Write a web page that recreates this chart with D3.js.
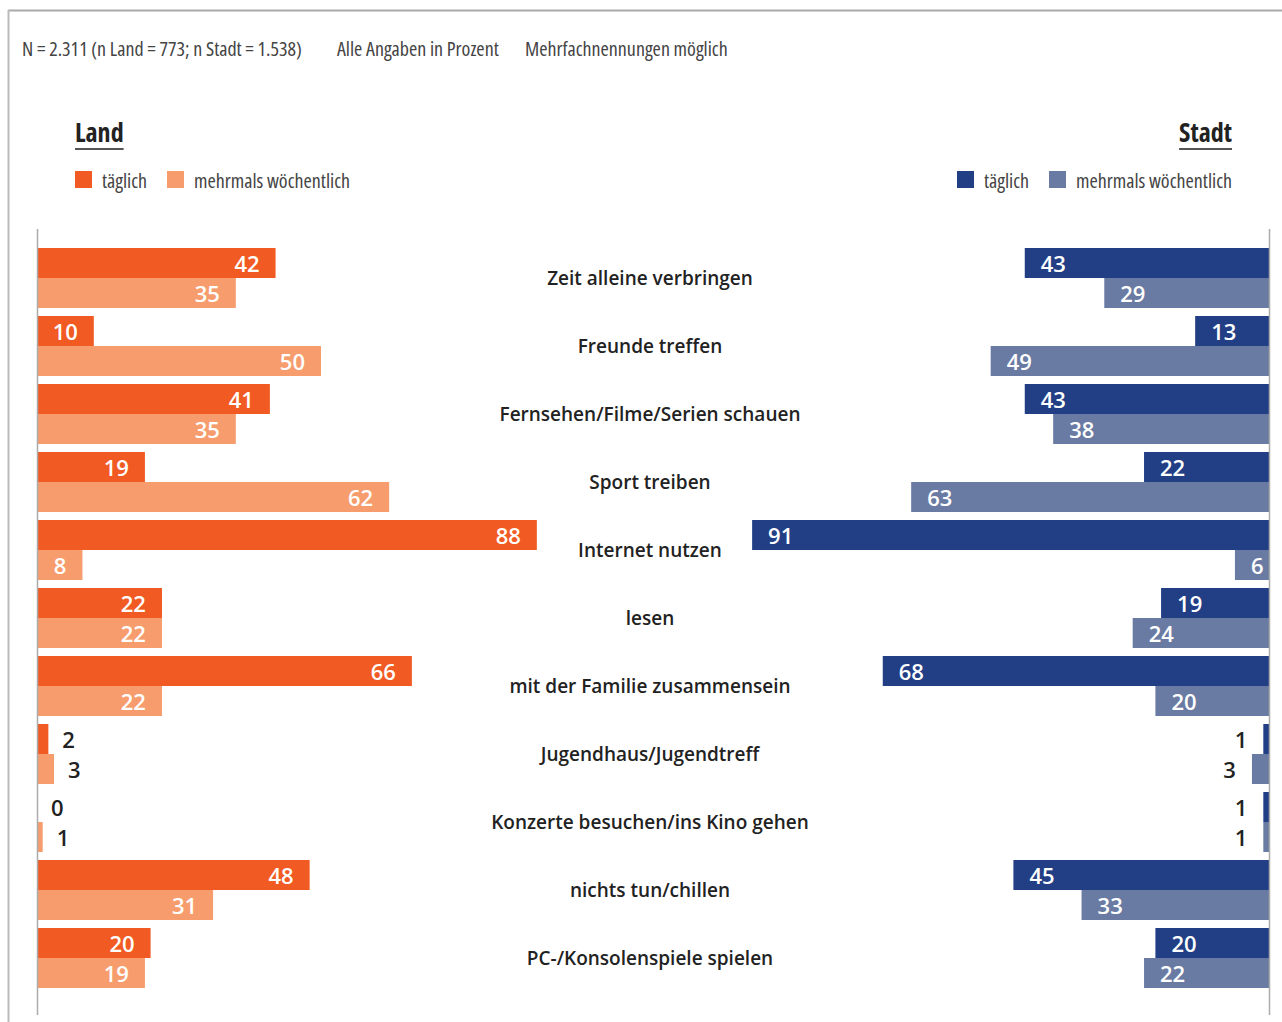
<!DOCTYPE html>
<html>
<head>
<meta charset="utf-8">
<script src="https://cdn.jsdelivr.net/npm/d3@7"></script>
<style>
  body { margin: 0; background: #fff; }
  .cond { font-family: "Liberation Sans Narrow", "Open Sans", sans-serif; font-stretch: condensed; }
</style>
</head>
<body>
<svg id="vis" width="1282" height="1022"></svg>
<script>
// chart data
var categories = ["Zeit alleine verbringen", "Freunde treffen", "Fernsehen/Filme/Serien schauen",
  "Sport treiben", "Internet nutzen", "lesen", "mit der Familie zusammensein",
  "Jugendhaus/Jugendtreff", "Konzerte besuchen/ins Kino gehen", "nichts tun/chillen",
  "PC-/Konsolenspiele spielen"];
var landTaeglich = [42, 10, 41, 19, 88, 22, 66, 2, 0, 48, 20];
var landMehrmals = [35, 50, 35, 62, 8, 22, 22, 3, 1, 31, 19];
var stadtTaeglich = [43, 13, 43, 22, 91, 19, 68, 1, 1, 45, 20];
var stadtMehrmals = [29, 49, 38, 63, 6, 24, 20, 3, 1, 33, 22];
var seriesKeys = ["taeglich", "mehrmals"];
var legendLabels = ["täglich", "mehrmals wöchentlich"];

var colors = {
  land: {taeglich: "#f15a22", mehrmals: "#f69c6d"},
  stadt: {taeglich: "#223f86", mehrmals: "#6a7ba3"}
};

var vis = d3.select("#vis");
var leftX = 37, rightX = 1269;

// frame lines
vis.append("line").attr("x1", 8).attr("x2", 1282).attr("y1", 10.5).attr("y2", 10.5)
  .attr("stroke", "#aaa").attr("stroke-width", 2);
vis.append("line").attr("x1", 8.5).attr("x2", 8.5).attr("y1", 10).attr("y2", 1022)
  .attr("stroke", "#bbb").attr("stroke-width", 2);

// header note
var notes = [["N = 2.311 (n Land = 773; n Stadt = 1.538)", 22], ["Alle Angaben in Prozent", 337], ["Mehrfachnennungen möglich", 525]];
vis.selectAll(".note").data(notes).enter().append("text")
  .attr("class", "cond")
  .attr("x", function(d) { return d[1]; })
  .attr("y", 56)
  .style("font-size", "20px")
  .style("fill", "#444")
  .text(function(d) { return d[0]; });

// scales
var x = d3.scaleLinear().domain([0, 100]).range([0, 568]);
var y = d3.scaleBand().domain(categories).range([248, 988]).paddingInner(8 / 68).paddingOuter(0);
var ySub = d3.scaleBand().domain(seriesKeys).range([0, y.bandwidth()]);

// build rows
var rows = categories.map(function(c, i) {
  return {cat: c, land: {taeglich: landTaeglich[i], mehrmals: landMehrmals[i]},
    stadt: {taeglich: stadtTaeglich[i], mehrmals: stadtMehrmals[i]}};
});

// side headers and legends
function header(name, side) {
  var g = vis.append("g");
  var isLeft = side === "land";
  var t = g.append("text").attr("class", "cond")
    .attr("x", isLeft ? 75 : 1232).attr("y", 142)
    .attr("text-anchor", isLeft ? "start" : "end")
    .style("font-size", "26px").style("font-weight", "bold").style("fill", "#222")
    .text(name);
  var w = t.node().getComputedTextLength();
  g.append("line")
    .attr("x1", isLeft ? 75 : 1232 - w).attr("x2", isLeft ? 75 + w : 1232)
    .attr("y1", 149).attr("y2", 149).attr("stroke", "#555").attr("stroke-width", 2);

  var boxX = isLeft ? [75, 167] : [957, 1049];
  seriesKeys.forEach(function(k, i) {
    g.append("rect").attr("x", boxX[i]).attr("y", 171).attr("width", 17).attr("height", 17)
      .attr("fill", colors[side][k]);
    g.append("text").attr("class", "cond")
      .attr("x", boxX[i] + 27).attr("y", 188)
      .style("font-size", "20px").style("fill", "#444")
      .text(legendLabels[i]);
  });
}
header("Land", "land");
header("Stadt", "stadt");

// bars
var groups = vis.selectAll(".row").data(rows).enter().append("g")
  .attr("transform", function(d) { return "translate(0," + y(d.cat) + ")"; });

seriesKeys.forEach(function(k) {
  // Land side, grows to the right
  groups.append("rect")
    .attr("x", leftX).attr("y", ySub(k))
    .attr("width", function(d) { return x(d.land[k]); })
    .attr("height", ySub.bandwidth())
    .attr("fill", colors.land[k]);
  groups.append("text")
    .attr("x", function(d) { var v = d.land[k]; return v >= 5 ? leftX + x(v) - 16 : leftX + x(v) + 14; })
    .attr("y", ySub(k) + ySub.bandwidth() / 2 + 1)
    .attr("dy", "0.35em")
    .attr("text-anchor", function(d) { return d.land[k] >= 5 ? "end" : "start"; })
    .style("font-family", "'Open Sans', sans-serif").style("font-size", "22px").style("font-weight", 600)
    .style("fill", function(d) { return d.land[k] >= 5 ? "#fff" : "#222"; })
    .text(function(d) { return d.land[k]; });

  // Stadt side, grows to the left
  groups.append("rect")
    .attr("x", function(d) { return rightX - x(d.stadt[k]); }).attr("y", ySub(k))
    .attr("width", function(d) { return x(d.stadt[k]); })
    .attr("height", ySub.bandwidth())
    .attr("fill", colors.stadt[k]);
  groups.append("text")
    .attr("x", function(d) { var v = d.stadt[k]; return v >= 5 ? rightX - x(v) + 16 : rightX - x(v) - 16; })
    .attr("y", ySub(k) + ySub.bandwidth() / 2 + 1)
    .attr("dy", "0.35em")
    .attr("text-anchor", function(d) { return d.stadt[k] >= 5 ? "start" : "end"; })
    .style("font-family", "'Open Sans', sans-serif").style("font-size", "22px").style("font-weight", 600)
    .style("fill", function(d) { return d.stadt[k] >= 5 ? "#fff" : "#222"; })
    .text(function(d) { return d.stadt[k]; });
});

// category labels
groups.append("text")
  .attr("x", 650).attr("y", y.bandwidth() / 2)
  .attr("dy", "0.35em")
  .attr("text-anchor", "middle")
  .style("font-family", "'Open Sans', sans-serif").style("font-size", "19px").style("font-weight", 600)
  .style("fill", "#222")
  .text(function(d) { return d.cat; });

// axis lines
[leftX, rightX].forEach(function(px) {
  vis.append("line").attr("x1", px + 0.5).attr("x2", px + 0.5).attr("y1", 229).attr("y2", 1015)
    .attr("stroke", "#aaa").attr("stroke-width", 1.5);
});
</script>
</body>
</html>
